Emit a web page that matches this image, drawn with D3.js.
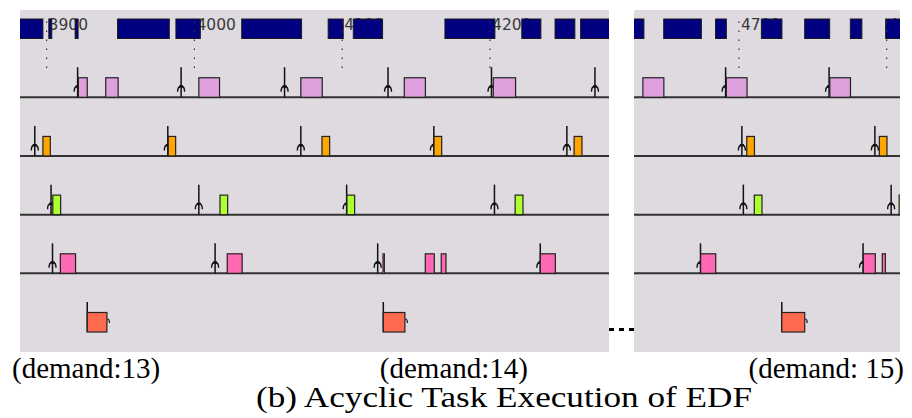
<!DOCTYPE html>
<html>
<head>
<meta charset="utf-8">
<script src="https://cdn.jsdelivr.net/npm/d3@7"></script>
<style>
	body { margin: 0; background: #fff; }
	svg { display: block; }
</style>
</head>
<body>
<div id="chart"></div>
<script>

///////////////////////////////////////////////////////////////////////
// data (time units)

const panel_domains = [ [ 3882, 4280.5 ], [ 4629, 4809 ] ];
const tick_values = [ 3900, 4000, 4100, 4200, 4700, 4800 ];

// idle periods on the processor (navy blocks along the top)
const idle_spans = [
	[ 3880, 3897.5 ], [ 3901.5, 3903.5 ], [ 3919.3, 3921.3 ], [ 3948, 3983 ],
	[ 3987.5, 4004 ], [ 4032, 4072.5 ], [ 4090.5, 4100.7 ], [ 4107.5, 4127.3 ],
	[ 4169.5, 4203.3 ], [ 4221.5, 4234.4 ], [ 4244, 4257.4 ], [ 4261.3, 4285 ],
	[ 4625, 4635.7 ], [ 4649.1, 4674.6 ], [ 4684.2, 4691.5 ], [ 4715.2, 4729.1 ],
	[ 4744.5, 4761.4 ], [ 4775.4, 4783.2 ], [ 4799.3, 4812 ]
];

const task_names = [ "t1", "t2", "t3", "t4", "aperiodic" ];

const t1_release = [ 3921, 3991, 4061, 4131, 4201, 4271, 4691, 4761 ];
const t1_run = [
	[ 3921.5, 3927.5 ], [ 3940, 3948.4 ], [ 4003, 4017 ], [ 4072, 4086.5 ],
	[ 4142, 4156.3 ], [ 4202.2, 4217.3 ], [ 4635, 4649.2 ], [ 4691.5, 4705.5 ],
	[ 4761.5, 4775.5 ]
];

const t2_release = [ 3892, 3982, 4072, 4162, 4252, 4702, 4792 ];
const t2_run = [
	[ 3897.5, 3902.5 ], [ 3982.3, 3987.3 ], [ 4086.3, 4091.5 ], [ 4162.1, 4167.3 ],
	[ 4256.9, 4262.2 ], [ 4705.3, 4710.5 ], [ 4795, 4800.2 ]
];

const t3_release = [ 3903, 4003, 4103, 4203, 4703, 4803 ];
const t3_run = [
	[ 3904.2, 3909.5 ], [ 4017.3, 4022.5 ], [ 4103.2, 4108.4 ], [ 4217, 4222.3 ],
	[ 4710.4, 4715.6 ], [ 4808.4, 4812 ]
];

const t4_release = [ 3904, 4014, 4124, 4234, 4674, 4784 ];
const t4_run = [
	[ 3909.3, 3919.6 ], [ 4022.2, 4032.3 ], [ 4127.6, 4128.5 ], [ 4156.2, 4162.3 ],
	[ 4167, 4170.2 ], [ 4234, 4244.2 ], [ 4674.1, 4684.3 ], [ 4784.2, 4792.3 ],
	[ 4797, 4799.1 ]
];

const ap_release = [ 3927.5, 4127.8, 4729 ];
const ap_run = [ [ 3927.5, 3940.8 ], [ 4127.8, 4142.4 ], [ 4729, 4744.5 ] ];

const demand_labels = [ "(demand:13)", "(demand:14)", "(demand: 15)" ];
const caption = "(b) Acyclic Task Execution of EDF";

///////////////////////////////////////////////////////////////////////

const width = 912, height = 418;
const top_y = 10, bottom_y = 352;
const bar_h = 19.5, arrow_h = 30;

const task_colors = {
	t1: "#dda0dd",
	t2: "#ffa500",
	t3: "#adff2f",
	t4: "#ff69b4",
	aperiodic: "#ff6b4f"
};

const tasks = [
	{ name: "t1", release: t1_release, run: t1_run, baseline: true },
	{ name: "t2", release: t2_release, run: t2_run, baseline: true },
	{ name: "t3", release: t3_release, run: t3_run, baseline: true },
	{ name: "t4", release: t4_release, run: t4_run, baseline: true },
	{ name: "aperiodic", release: ap_release, run: ap_run, baseline: false }
];

const panels = [
	{ domain: panel_domains[ 0 ], left: 20, right: 609 },
	{ domain: panel_domains[ 1 ], left: 634, right: 900 }
];

let svg = d3.select( "#chart" )
	.append( "svg" )
	.attr( "width", width )
	.attr( "height", height );

let Y_row = d3.scalePoint()
	.domain( task_names )
	.range( [ 97.25, 332 ] );

panels.forEach( ( p, i ) => draw_panel( p, i ) );

function in_domain( d, dom )	{
	return( d[ 1 ] > dom[ 0 ] && d[ 0 ] < dom[ 1 ] );
}

function draw_panel( p, i )	{

	let X = d3.scaleLinear()
		.domain( p.domain )
		.range( [ p.left, p.right ] );

	svg.append( "clipPath" )
		.attr( "id", "clip" + i )
		.append( "rect" )
			.attr( "x", p.left )
			.attr( "y", top_y )
			.attr( "width", p.right - p.left )
			.attr( "height", bottom_y - top_y );

	let g = svg.append( "g" )
		.attr( "clip-path", "url(#clip" + i + ")" );

	g.append( "rect" )
		.attr( "x", p.left )
		.attr( "y", top_y )
		.attr( "width", p.right - p.left )
		.attr( "height", bottom_y - top_y )
		.attr( "fill", "#dedadf" );

	let ticks = tick_values.filter( t => t >= p.domain[ 0 ] && t <= p.domain[ 1 ] );

	// time labels sit under the idle blocks
	g.selectAll( "text.tick" )
		.data( ticks )
		.join( "text" )
			.attr( "class", "tick" )
			.attr( "x", d => X( d ) + 2 )
			.attr( "y", 29.5 )
			.attr( "font-family", "DejaVu Sans, sans-serif" )
			.attr( "font-size", 15.5 )
			.attr( "fill", "#3a3a3a" )
			.text( d => d );

	g.selectAll( "rect.idle" )
		.data( idle_spans.filter( d => in_domain( d, p.domain ) ) )
		.join( "rect" )
			.attr( "class", "idle" )
			.attr( "x", d => X( d[ 0 ] ) )
			.attr( "y", 19 )
			.attr( "width", d => X( d[ 1 ] ) - X( d[ 0 ] ) )
			.attr( "height", 19.5 )
			.attr( "fill", "#000080" )
			.attr( "stroke", "#1a1a1a" )
			.attr( "stroke-width", 1 );

	g.selectAll( "line.grid" )
		.data( ticks )
		.join( "line" )
			.attr( "class", "grid" )
			.attr( "x1", d => X( d ) )
			.attr( "x2", d => X( d ) )
			.attr( "y1", 21.5 )
			.attr( "y2", 68 )
			.attr( "stroke", "#333" )
			.attr( "stroke-width", 1.2 )
			.attr( "stroke-dasharray", "1.5,7.5" );

	tasks.forEach( task => draw_task( g, X, p, task ) );
}

function draw_task( g, X, p, task )	{

	let base = Y_row( task.name );

	if( task.baseline )	{
		g.append( "line" )
			.attr( "x1", p.left )
			.attr( "x2", p.right )
			.attr( "y1", base )
			.attr( "y2", base )
			.attr( "stroke", "#333" )
			.attr( "stroke-width", 2 );
	}

	let rel = task.release.filter( t => t >= p.domain[ 0 ] - 5 && t <= p.domain[ 1 ] + 5 );

	g.append( "g" )
		.selectAll( "line" )
		.data( rel )
		.join( "line" )
			.attr( "x1", d => X( d ) )
			.attr( "x2", d => X( d ) )
			.attr( "y1", base - arrow_h )
			.attr( "y2", base )
			.attr( "stroke", "#111" )
			.attr( "stroke-width", 1.5 );

	if( task.baseline )	{
		// little arrow head near the foot of each release mark
		g.append( "g" )
			.selectAll( "path" )
			.data( rel )
			.join( "path" )
				.attr( "d", d => {
					let x = X( d );
					return "M" + ( x - 3.5 ) + "," + ( base - 5.5 ) +
						" C" + ( x - 3.5 ) + "," + ( base - 9 ) + " " + ( x - 2 ) + "," + ( base - 11 ) + " " + x + "," + ( base - 11 ) +
						" C" + ( x + 2 ) + "," + ( base - 11 ) + " " + ( x + 3.5 ) + "," + ( base - 9 ) + " " + ( x + 3.5 ) + "," + ( base - 5.5 );
				} )
				.attr( "fill", "none" )
				.attr( "stroke", "#111" )
				.attr( "stroke-width", 1.4 );
		g.append( "g" )
			.selectAll( "rect" )
			.data( rel )
			.join( "rect" )
				.attr( "x", d => X( d ) - 2 )
				.attr( "y", base - 12 )
				.attr( "width", 4 )
				.attr( "height", 2.5 )
				.attr( "fill", "#111" );
	}

	g.append( "g" )
		.selectAll( "rect" )
		.data( task.run.filter( d => in_domain( d, p.domain ) ) )
		.join( "rect" )
			.attr( "x", d => X( d[ 0 ] ) )
			.attr( "y", base - bar_h )
			.attr( "width", d => X( d[ 1 ] ) - X( d[ 0 ] ) )
			.attr( "height", bar_h )
			.attr( "fill", task_colors[ task.name ] )
			.attr( "stroke", "#222" )
			.attr( "stroke-width", 1.2 );

	if( !task.baseline )	{
		// deadline hook at the right end of each aperiodic job
		g.append( "g" )
			.selectAll( "path" )
			.data( task.run.filter( d => in_domain( d, p.domain ) ) )
			.join( "path" )
				.attr( "d", d => {
					let x = X( d[ 1 ] );
					return "M" + ( x + 0.5 ) + "," + ( base - 13 ) + " q2,0 2,4";
				} )
				.attr( "fill", "none" )
				.attr( "stroke", "#111" )
				.attr( "stroke-width", 1.2 );
	}
}

// gap marker between the two panels
svg.append( "line" )
	.attr( "x1", 609 )
	.attr( "x2", 634 )
	.attr( "y1", 329.5 )
	.attr( "y2", 329.5 )
	.attr( "stroke", "#000" )
	.attr( "stroke-width", 3 )
	.attr( "stroke-dasharray", "5,5" );

const label_pos = [ [ 12, "start" ], [ 528, "end" ], [ 904, "end" ] ];

svg.selectAll( "text.demand" )
	.data( demand_labels )
	.join( "text" )
		.attr( "class", "demand" )
		.attr( "x", ( d, i ) => label_pos[ i ][ 0 ] )
		.attr( "y", 378 )
		.attr( "text-anchor", ( d, i ) => label_pos[ i ][ 1 ] )
		.attr( "font-family", "Liberation Serif, Times New Roman, serif" )
		.attr( "font-size", 29 )
		.attr( "fill", "#000" )
		.text( d => d );

svg.append( "text" )
	.attr( "x", 256 )
	.attr( "y", 407 )
	.attr( "textLength", 496 )
	.attr( "lengthAdjust", "spacingAndGlyphs" )
	.attr( "font-family", "Liberation Serif, Times New Roman, serif" )
	.attr( "font-size", 29 )
	.attr( "fill", "#000" )
	.text( caption );

</script>
</body>
</html>
